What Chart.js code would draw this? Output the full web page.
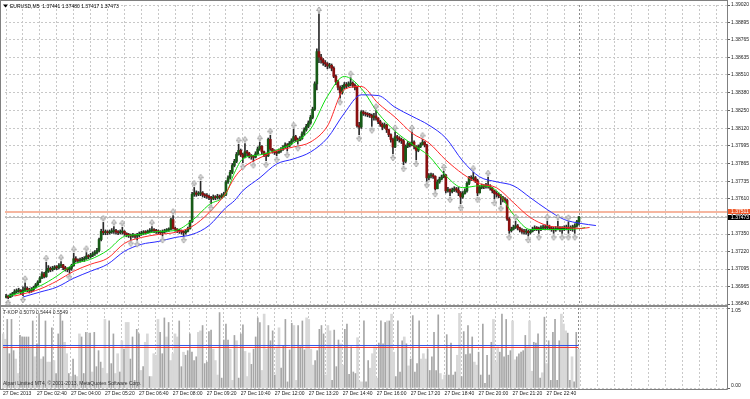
<!DOCTYPE html>
<html>
<head>
<meta charset="utf-8">
<script src="https://cdn.jsdelivr.net/npm/chart.js@4.4.1/dist/chart.umd.min.js"></script>
<style>
  html, body { margin: 0; padding: 0; background: #fff; width: 750px; height: 399px; overflow: hidden; }
  #wrap { position: relative; width: 750px; height: 399px; }
  #sub { position: absolute; left: 0; top: 305px; }
  #main { position: absolute; left: 0; top: 0; }
</style>
</head>
<body>
<div id="wrap">
  <canvas id="sub" width="750" height="94"></canvas>
  <canvas id="main" width="750" height="312"></canvas>
</div>
<script>
// ---- data ----
const symbol = "EURUSD";
const period = "M5";

const priceTicks = [1.36840, 1.36965, 1.37095, 1.37220, 1.37350, 1.37480, 1.37610, 1.37735, 1.37865,
  1.37995, 1.38120, 1.38250, 1.38380, 1.38510, 1.38635, 1.38765, 1.38895, 1.39020];

// one label every 16 bars, starting at bar 0
const timeLabels = ["27 Dec 2013", "27 Dec 02:40", "27 Dec 04:00", "27 Dec 05:20", "27 Dec 06:40",
  "27 Dec 08:00", "27 Dec 09:20", "27 Dec 10:40", "27 Dec 12:00", "27 Dec 13:20", "27 Dec 14:40",
  "27 Dec 16:00", "27 Dec 17:20", "27 Dec 18:40", "27 Dec 20:00", "27 Dec 21:20", "27 Dec 22:40"];

const firstOpen = 1.36890;

const closes = [
  1.36895,1.36888,1.36905,1.36915,1.36930,1.36935,1.36940,1.36925,1.36940,1.36955,
  1.36945,1.36935,1.36945,1.36960,1.36980,1.37000,1.37030,1.37060,1.37040,1.37080,
  1.37100,1.37090,1.37100,1.37110,1.37105,1.37120,1.37125,1.37105,1.37095,1.37090,
  1.37100,1.37120,1.37170,1.37160,1.37155,1.37160,1.37165,1.37170,1.37190,1.37185,
  1.37195,1.37205,1.37215,1.37230,1.37310,1.37370,1.37360,1.37365,1.37360,1.37365,
  1.37370,1.37375,1.37365,1.37360,1.37365,1.37370,1.37355,1.37345,1.37340,1.37335,
  1.37340,1.37335,1.37340,1.37350,1.37355,1.37365,1.37360,1.37370,1.37375,1.37380,
  1.37375,1.37370,1.37365,1.37360,1.37365,1.37375,1.37380,1.37385,1.37455,1.37390,
  1.37385,1.37375,1.37370,1.37365,1.37360,1.37370,1.37390,1.37440,1.37640,1.37650,
  1.37640,1.37645,1.37650,1.37635,1.37630,1.37625,1.37615,1.37610,1.37620,1.37615,
  1.37625,1.37620,1.37630,1.37640,1.37730,1.37760,1.37800,1.37850,1.37880,1.37930,
  1.37960,1.37930,1.37910,1.37950,1.37940,1.37920,1.37915,1.37910,1.37935,1.37970,
  1.37990,1.37950,1.37930,1.37920,1.38040,1.37970,1.37955,1.37945,1.37940,1.37955,
  1.37965,1.37985,1.38000,1.37990,1.38010,1.38030,1.38060,1.38040,1.38030,1.38045,
  1.38080,1.38110,1.38135,1.38160,1.38200,1.38260,1.38445,1.38680,1.38640,1.38620,
  1.38600,1.38590,1.38575,1.38580,1.38560,1.38500,1.38460,1.38420,1.38380,1.38420,
  1.38440,1.38430,1.38445,1.38450,1.38435,1.38420,1.38140,1.38130,1.38240,1.38230,
  1.38225,1.38220,1.38215,1.38200,1.38210,1.38195,1.38170,1.38150,1.38130,1.38145,
  1.38110,1.38075,1.38040,1.37985,1.38060,1.38050,1.38040,1.38030,1.37880,1.37990,
  1.38010,1.38000,1.38020,1.37990,1.37960,1.37985,1.38000,1.38020,1.38000,1.37760,
  1.37775,1.37780,1.37770,1.37680,1.37730,1.37750,1.37765,1.37780,1.37665,1.37675,
  1.37660,1.37670,1.37680,1.37670,1.37650,1.37620,1.37645,1.37665,1.37720,1.37760,
  1.37755,1.37760,1.37740,1.37650,1.37690,1.37700,1.37695,1.37705,1.37700,1.37685,
  1.37665,1.37645,1.37640,1.37630,1.37615,1.37600,1.37595,1.37460,1.37375,1.37385,
  1.37400,1.37410,1.37395,1.37380,1.37370,1.37365,1.37370,1.37360,1.37370,1.37385,
  1.37395,1.37390,1.37385,1.37395,1.37400,1.37395,1.37405,1.37395,1.37385,1.37380,
  1.37390,1.37395,1.37385,1.37390,1.37395,1.37400,1.37390,1.37395,1.37400,1.37410,
  1.37441,1.37473
];

const highs = [
  1.36910,1.36905,1.36915,1.36925,1.36945,1.36950,1.36955,1.36945,1.36965,1.36995,
  1.36965,1.36955,1.36960,1.36970,1.36990,1.37010,1.37040,1.37075,1.37070,1.37145,
  1.37120,1.37110,1.37115,1.37120,1.37120,1.37135,1.37150,1.37130,1.37115,1.37105,
  1.37110,1.37130,1.37210,1.37185,1.37170,1.37175,1.37180,1.37185,1.37215,1.37200,
  1.37210,1.37220,1.37230,1.37245,1.37320,1.37385,1.37435,1.37380,1.37375,1.37380,
  1.37390,1.37405,1.37385,1.37375,1.37380,1.37400,1.37375,1.37360,1.37355,1.37350,
  1.37355,1.37350,1.37355,1.37365,1.37370,1.37375,1.37375,1.37380,1.37390,1.37405,
  1.37390,1.37385,1.37380,1.37375,1.37380,1.37385,1.37390,1.37395,1.37465,1.37485,
  1.37400,1.37390,1.37385,1.37380,1.37375,1.37380,1.37400,1.37450,1.37655,1.37690,
  1.37665,1.37660,1.37735,1.37660,1.37645,1.37645,1.37635,1.37625,1.37635,1.37630,
  1.37640,1.37635,1.37645,1.37655,1.37740,1.37775,1.37815,1.37865,1.37895,1.37945,
  1.38005,1.37970,1.37940,1.38010,1.37960,1.37945,1.37930,1.37925,1.37950,1.37985,
  1.38020,1.37995,1.37955,1.37940,1.38050,1.38070,1.37975,1.37965,1.37955,1.37970,
  1.37980,1.37995,1.38015,1.38010,1.38025,1.38045,1.38115,1.38070,1.38050,1.38060,
  1.38095,1.38125,1.38150,1.38175,1.38215,1.38275,1.38460,1.38700,1.38955,1.38660,
  1.38630,1.38615,1.38600,1.38595,1.38590,1.38570,1.38510,1.38470,1.38430,1.38435,
  1.38455,1.38455,1.38460,1.38490,1.38460,1.38445,1.38430,1.38165,1.38250,1.38250,
  1.38240,1.38235,1.38230,1.38225,1.38230,1.38250,1.38200,1.38180,1.38160,1.38160,
  1.38150,1.38115,1.38080,1.38050,1.38095,1.38070,1.38060,1.38050,1.38040,1.38000,
  1.38025,1.38020,1.38095,1.38030,1.37995,1.38000,1.38015,1.38040,1.38025,1.38005,
  1.37790,1.37795,1.37790,1.37775,1.37745,1.37765,1.37780,1.37810,1.37785,1.37690,
  1.37680,1.37685,1.37695,1.37690,1.37690,1.37660,1.37660,1.37680,1.37730,1.37770,
  1.37775,1.37800,1.37770,1.37750,1.37705,1.37715,1.37710,1.37720,1.37765,1.37710,
  1.37690,1.37670,1.37660,1.37650,1.37640,1.37625,1.37615,1.37605,1.37470,1.37400,
  1.37415,1.37445,1.37420,1.37400,1.37390,1.37385,1.37385,1.37380,1.37385,1.37400,
  1.37410,1.37405,1.37400,1.37410,1.37415,1.37415,1.37445,1.37415,1.37405,1.37400,
  1.37405,1.37445,1.37405,1.37405,1.37410,1.37415,1.37440,1.37410,1.37415,1.37425,
  1.37450,1.37480
];

const lows = [
  1.36885,1.36878,1.36890,1.36895,1.36905,1.36920,1.36925,1.36910,1.36900,1.36930,
  1.36930,1.36920,1.36925,1.36935,1.36955,1.36975,1.36995,1.37025,1.37030,1.37035,
  1.37070,1.37075,1.37080,1.37090,1.37090,1.37095,1.37105,1.37090,1.37080,1.37075,
  1.37065,1.37085,1.37115,1.37145,1.37140,1.37145,1.37150,1.37150,1.37165,1.37170,
  1.37175,1.37185,1.37195,1.37205,1.37220,1.37300,1.37345,1.37345,1.37345,1.37350,
  1.37355,1.37355,1.37350,1.37345,1.37350,1.37350,1.37340,1.37330,1.37325,1.37310,
  1.37325,1.37320,1.37305,1.37330,1.37340,1.37345,1.37350,1.37355,1.37360,1.37365,
  1.37360,1.37355,1.37350,1.37345,1.37335,1.37355,1.37365,1.37370,1.37380,1.37385,
  1.37370,1.37360,1.37355,1.37350,1.37335,1.37350,1.37365,1.37385,1.37435,1.37625,
  1.37625,1.37630,1.37630,1.37620,1.37615,1.37610,1.37600,1.37570,1.37600,1.37600,
  1.37605,1.37605,1.37610,1.37620,1.37630,1.37720,1.37750,1.37790,1.37840,1.37870,
  1.37925,1.37915,1.37870,1.37905,1.37920,1.37905,1.37895,1.37880,1.37905,1.37930,
  1.37960,1.37935,1.37915,1.37885,1.37915,1.37960,1.37940,1.37930,1.37920,1.37940,
  1.37945,1.37960,1.37975,1.37955,1.37985,1.38000,1.38025,1.38025,1.38005,1.38030,
  1.38040,1.38070,1.38100,1.38125,1.38150,1.38190,1.38250,1.38400,1.38600,1.38595,
  1.38580,1.38570,1.38555,1.38560,1.38540,1.38490,1.38440,1.38400,1.38340,1.38370,
  1.38410,1.38415,1.38425,1.38430,1.38420,1.38400,1.38130,1.38075,1.38120,1.38215,
  1.38210,1.38205,1.38200,1.38135,1.38180,1.38180,1.38155,1.38135,1.38110,1.38120,
  1.38090,1.38060,1.38020,1.37935,1.37980,1.38030,1.38020,1.38010,1.37855,1.37870,
  1.37980,1.37985,1.37995,1.37970,1.37890,1.37950,1.37980,1.38000,1.37985,1.37735,
  1.37745,1.37760,1.37755,1.37670,1.37690,1.37720,1.37745,1.37760,1.37650,1.37655,
  1.37630,1.37650,1.37660,1.37655,1.37630,1.37570,1.37610,1.37640,1.37655,1.37710,
  1.37740,1.37740,1.37725,1.37630,1.37650,1.37680,1.37680,1.37685,1.37685,1.37670,
  1.37650,1.37605,1.37620,1.37615,1.37565,1.37585,1.37580,1.37450,1.37355,1.37365,
  1.37380,1.37390,1.37380,1.37365,1.37355,1.37350,1.37350,1.37335,1.37350,1.37365,
  1.37375,1.37375,1.37355,1.37375,1.37385,1.37380,1.37385,1.37380,1.37370,1.37355,
  1.37370,1.37380,1.37370,1.37355,1.37375,1.37380,1.37355,1.37375,1.37370,1.37355,
  1.37400,1.37417
];

// Alligator lines, sampled along the bar index (they run past the last bar)
const jawX = [8,16,24,32,40,48,56,64,72,80, 88,96,104,108,112,120,128,136,144,152,
  160,168,176,184,192,200,208,216,224,232, 240,248,256,264,272,279];
const jawY = [1.36891,1.36927,1.36963,1.37028,1.37079,1.37130,1.37224,1.37275,1.37296,1.37325,
  1.37347,1.37412,1.37543,1.37593,1.37666,1.37760,1.37861,1.37898,1.37948,1.38050,
  1.38231,1.38365,1.38360,1.38274,1.38209,1.38144,1.38050,1.37883,1.37767,1.37731,
  1.37702,1.37615,1.37528,1.37456,1.37427,1.37412];

const teethX = [4,8,16,24,32,40,48,56,64,72, 80,88,96,104,108,112,120,128,136,144,
  152,160,168,176,184,192,200,208,216,224, 232,240,248,256,264,272,276];
const teethY = [1.36898,1.36913,1.36949,1.37007,1.37079,1.37130,1.37173,1.37282,1.37325,1.37347,
  1.37362,1.37405,1.37506,1.37651,1.37760,1.37832,1.37905,1.37956,1.37985,1.38021,
  1.38137,1.38405,1.38426,1.38303,1.38202,1.38086,1.38014,1.37890,1.37789,1.37717,
  1.37688,1.37579,1.37470,1.37412,1.37398,1.37391,1.37398];

const lipsX = [1,8,16,24,32,40,48,56,64,72, 80,88,96,104,108,112,120,128,136,144,
  152,160,168,176,184,192,200,208,216,224, 232,240,248,256,264,272,274];
const lipsY = [1.36898,1.36927,1.36971,1.37043,1.37130,1.37166,1.37231,1.37333,1.37347,1.37369,
  1.37376,1.37448,1.37564,1.37644,1.37796,1.37898,1.37927,1.37963,1.38014,1.38115,
  1.38354,1.38499,1.38412,1.38231,1.38100,1.38006,1.37919,1.37775,1.37688,1.37702,
  1.37666,1.37492,1.37383,1.37383,1.37383,1.37391,1.37398];

// bars carrying a fractal arrow
const fractalUp = [9, 19, 26, 32, 38, 46, 51, 55, 69, 79, 89, 92, 110, 113, 120, 125, 136, 148,
  163, 175, 184, 192, 197, 207, 221, 228, 241, 256, 261, 266];
const fractalDown = [1, 8, 30, 59, 62, 74, 84, 97, 112, 117, 123, 128, 133, 138, 158, 167, 173,
  183, 188, 194, 199, 203, 210, 215, 223, 231, 234, 238, 247, 252, 259, 263, 266, 269];

const userLine = 1.37511;

// T-KOP sub window
const tkopHist = [
  0.71,0.64,0.90,0.45,0.90,0.49,0.38,0.19,0.69,0.67, 0.67,0.67,0.67,0.54,0.88,0.41,0.58,0.97,0.38,0.41,
  0.88,0.34,0.34,0.79,0.36,0.19,0.71,0.97,0.88,0.60, 0.45,0.19,0.15,0.38,0.17,0.15,0.71,0.67,0.19,0.73,
  0.72,0.72,0.21,0.73,0.28,0.49,0.34,0.26,0.90,0.19, 0.88,0.32,0.71,0.19,0.45,0.21,0.62,0.51,0.86,0.86,
  0.38,0.67,0.10,0.77,0.71,0.23,0.28,0.60,0.71,0.15, 0.15,0.45,0.43,0.90,0.73,0.45,0.92,0.67,0.86,0.36,
  0.45,0.71,0.67,0.88,0.28,0.47,0.43,0.49,0.71,
  0.47,0.36,0.41,0.73,0.75,0.82,0.32,0.34,0.74,0.76, 0.51,0.36,0.17,0.99,0.13,0.63,0.84,0.63,0.51,0.10,
  0.69,0.62,0.13,0.71,0.83,0.48,0.15,0.46,0.31,0.51, 0.67,0.92,0.86,0.23,0.97,0.51,0.82,0.62,0.75,0.17,
  0.54,0.79,0.26,0.56,0.90,0.08,0.50,0.85,0.82,0.10, 0.82,0.54,0.88,0.50,0.92,0.90,0.51,0.30,0.36,0.49,
  0.77,0.82,0.71,0.17,0.82,0.75,0.10,0.76,0.28,0.63, 0.58,0.30,0.77,0.84,0.18,0.54,0.21,0.19,0.66,0.08,
  0.08,0.88,0.08,0.36,0.26,0.45,0.54,0.13,0.59,0.88, 0.58,
  0.86,0.88,0.88,0.97,0.47,0.15,0.88,0.21,0.62,0.67, 0.58,0.29,0.38,0.95,0.21,0.32,0.88,0.38,0.45,0.38,
  0.51,0.23,0.41,0.73,0.23,0.96,0.19,0.11,0.17,0.70, 0.17,0.59,0.17,0.21,0.43,0.98,0.15,0.74,0.44,0.82,
  0.45,0.67,0.34,0.30,0.47,0.17,0.84,0.06,0.43,0.17, 0.60,0.90,0.34,0.54,0.47,0.97,0.41,0.90,0.43,0.49,
  0.88,0.37,0.41,0.45,0.47,0.49,0.69,0.54,0.88,0.22, 0.60,0.59,0.71,0.13,0.20,0.93,0.32,0.62,0.10,0.73,
  0.90,0.10,0.62,0.97,0.84,0.75,0.72,0.10,0.41,0.08, 0.73,0.5079
];
// D = dark thin bar, L = light wide bar
const tkopShade =
  "LLDDDDLLDD" + "DDDLDLDDLD" + "DLLDLDDDDL" + "LDLDDLLDDD" + "LDLDDDDLLL" + "DDDLLDLDLL" +
  "DDDDDLDLLD" + "LLLLDDDLDL" + "LLLDDLDDD" +
  "DDDLLDDDDD" + "LLLDDDDDLL" + "DLDDDLLLDD" + "DDDLLLDDDD" + "LLDDDDDDLL" + "DDDDLLLLDD" +
  "DDDLLLDDDD" + "LLDDDDDDLL" + "LDDDLLLLDDD" +
  "DLDLLDDDDL" + "DLDDDDDLLL" + "DDDDDDLLLD" + "DDDDLLDDDD" + "DDLLDDDDDD" + "DLLLDDDDDD" +
  "LLDDDDDLLL" + "DDDDLDLDDD" + "DDDLLLDDLD" + "DL";
// the two level lines as they sit in the window, and the values the window caption prints
const tkopLineRed = 0.532;
const tkopLineBlue = 0.558;
const tkopCaption = ["0.5079", "0.5444", "0.5549"];

// ---- derived ----
const N = closes.length;
const opens = closes.map((c, i) => (i === 0 ? firstOpen : closes[i - 1]));
const bid = closes[N - 1];

const FONT = "Liberation Sans";
Chart.defaults.font.family = FONT;
Chart.defaults.font.size = 5;
Chart.defaults.color = "#202020";

const GRID = "#c8c8c8";
const FRAME = "#808080";
const X_MIN = -0.5, X_MAX = 341;
const gridSteps = [];
for (let v = 0; v <= 336; v += 8) gridSteps.push(v);

// small Wingdings-like arrow, drawn on the far side of the point
function arrowGlyph(up) {
  const c = document.createElement("canvas");
  c.width = 6; c.height = 16;
  const g = c.getContext("2d");
  g.fillStyle = "#dcdcdc";
  g.strokeStyle = "#8c8c8c";
  g.lineWidth = 0.7;
  g.beginPath();
  if (up) {
    g.moveTo(3, 1); g.lineTo(5.5, 4.5); g.lineTo(3.8, 4.5); g.lineTo(3.8, 6.5);
    g.lineTo(2.2, 6.5); g.lineTo(2.2, 4.5); g.lineTo(0.5, 4.5);
  } else {
    g.moveTo(3, 15); g.lineTo(5.5, 11.5); g.lineTo(3.8, 11.5); g.lineTo(3.8, 9.5);
    g.lineTo(2.2, 9.5); g.lineTo(2.2, 11.5); g.lineTo(0.5, 11.5);
  }
  g.closePath();
  g.fill();
  g.stroke();
  return c;
}

function xAxis(extra) {
  return Object.assign({
    type: "linear", min: X_MIN, max: X_MAX, offset: false,
    afterBuildTicks: (s) => { s.ticks = gridSteps.map((v) => ({ value: v })); },
    grid: { color: GRID, offset: false, drawTicks: false },
    border: { display: false, dash: [2, 2] },
  }, extra);
}

function lastBarMarker(chart) {
  const { ctx, chartArea: a, scales: { x } } = chart;
  const lx = Math.round(x.getPixelForValue(N - 1)) + 0.5;
  ctx.save();
  ctx.strokeStyle = "#8c8c8c";
  ctx.lineWidth = 1;
  ctx.setLineDash([2, 2]);
  ctx.beginPath();
  ctx.moveTo(lx, a.top);
  ctx.lineTo(lx, a.bottom);
  ctx.stroke();
  ctx.restore();
}

// ---- main window ----
const mainDecor = {
  id: "mainDecor",
  beforeDatasetsDraw(chart) {
    const { ctx, chartArea: a, scales: { y } } = chart;
    lastBarMarker(chart);
    ctx.save();
    ctx.lineWidth = 1;
    ctx.strokeStyle = "#bdbdbd";
    let py = Math.round(y.getPixelForValue(bid)) + 0.5;
    ctx.beginPath(); ctx.moveTo(a.left, py); ctx.lineTo(a.right, py); ctx.stroke();
    ctx.strokeStyle = "#f6b6a0";
    ctx.lineWidth = 2;
    py = Math.round(y.getPixelForValue(userLine));
    ctx.beginPath(); ctx.moveTo(a.left, py); ctx.lineTo(a.right, py); ctx.stroke();
    ctx.restore();
  },
  afterDraw(chart) {
    const { ctx, chartArea: a, scales: { y } } = chart;
    ctx.save();
    ctx.strokeStyle = FRAME;
    ctx.lineWidth = 1;
    ctx.beginPath();
    ctx.moveTo(0, 0.5); ctx.lineTo(a.right + 0.5, 0.5);
    ctx.moveTo(0.5, 0); ctx.lineTo(0.5, 306);
    ctx.moveTo(a.right + 0.5, 0); ctx.lineTo(a.right + 0.5, 306);
    ctx.stroke();

    // header
    ctx.fillStyle = "#000";
    ctx.beginPath();
    ctx.moveTo(3, 4.5); ctx.lineTo(8, 4.5); ctx.lineTo(5.5, 7.5);
    ctx.closePath();
    ctx.fill();
    ctx.font = "5px " + FONT;
    ctx.textBaseline = "middle";
    ctx.textAlign = "left";
    const o = opens[N - 1], h = highs[N - 1], l = lows[N - 1], c = closes[N - 1];
    ctx.fillText(symbol + "," + period + "  " + [o, h, l, c].map((v) => v.toFixed(5)).join(" "), 10, 6.5);

    // price tags on the scale
    const tag = (v, bg) => {
      const py = y.getPixelForValue(v);
      ctx.fillStyle = bg;
      ctx.fillRect(a.right + 1, Math.round(py - 2.5), 750 - a.right - 1, 5);
      ctx.fillStyle = "#fff";
      ctx.fillText(v.toFixed(5), a.right + 4, py);
    };
    tag(userLine, "#ef5a2c");
    tag(bid, "#000");
    ctx.restore();
  },
};

const bodyColors = closes.map((c, i) => (c > opens[i] ? "#175a17" : c < opens[i] ? "#8a1010" : "#000"));

new Chart(document.getElementById("main"), {
  type: "bar",
  data: {
    datasets: [
      {
        type: "line", label: "fractal up", order: 0, clip: false,
        data: fractalUp.map((i) => ({ x: i, y: highs[i] })),
        showLine: false, pointStyle: arrowGlyph(true), pointRadius: 4,
      },
      {
        type: "line", label: "fractal down", order: 0, clip: false,
        data: fractalDown.map((i) => ({ x: i, y: lows[i] })),
        showLine: false, pointStyle: arrowGlyph(false), pointRadius: 4,
      },
      {
        type: "line", label: "jaw", order: 1,
        data: jawX.map((x, k) => ({ x, y: jawY[k] })),
        borderColor: "#2a2aff", borderWidth: 1, pointRadius: 0, cubicInterpolationMode: "monotone",
      },
      {
        type: "line", label: "teeth", order: 1,
        data: teethX.map((x, k) => ({ x, y: teethY[k] })),
        borderColor: "#ff2a2a", borderWidth: 1, pointRadius: 0, cubicInterpolationMode: "monotone",
      },
      {
        type: "line", label: "lips", order: 1,
        data: lipsX.map((x, k) => ({ x, y: lipsY[k] })),
        borderColor: "#10dd10", borderWidth: 1, pointRadius: 0, cubicInterpolationMode: "monotone",
      },
      {
        label: "body", order: 2, grouped: false, barThickness: 2, minBarLength: 1,
        data: closes.map((c, i) => ({ x: i, y: [opens[i], c] })),
        backgroundColor: bodyColors,
      },
      {
        label: "wick", order: 3, grouped: false, barThickness: 1,
        data: closes.map((c, i) => ({
          x: i,
          y: [Math.min(lows[i], opens[i], c), Math.max(highs[i], opens[i], c)],
        })),
        backgroundColor: "#2a2a2a",
      },
    ],
  },
  options: {
    responsive: false,
    animation: false,
    events: [],
    layout: { padding: { left: 1, top: 3, right: 0, bottom: 8 } },
    plugins: { legend: { display: false }, tooltip: { enabled: false } },
    scales: {
      x: xAxis({ ticks: { display: false }, afterFit: (s) => { s.height = 0; } }),
      y: {
        position: "right", min: 1.36840, max: 1.39020,
        afterBuildTicks: (s) => { s.ticks = priceTicks.map((v) => ({ value: v })); },
        afterFit: (s) => { s.width = 23; },
        ticks: { callback: (v) => v.toFixed(5), padding: 1, autoSkip: false, color: "#202020" },
        grid: { color: GRID, tickLength: 3, tickColor: "#606060" },
        border: { display: false, dash: [2, 2] },
      },
    },
  },
  plugins: [mainDecor],
});

// ---- T-KOP window ----
const subDecor = {
  id: "subDecor",
  beforeDatasetsDraw(chart) { lastBarMarker(chart); },
  afterDraw(chart) {
    const { ctx, chartArea: a, scales: { y } } = chart;
    ctx.save();
    ctx.fillStyle = "#8a8a8a";
    ctx.fillRect(0, 0, a.right + 1, 2);
    ctx.strokeStyle = FRAME;
    ctx.lineWidth = 1;
    ctx.beginPath();
    ctx.moveTo(0.5, 0); ctx.lineTo(0.5, a.bottom + 1.5);
    ctx.moveTo(a.right + 0.5, 0); ctx.lineTo(a.right + 0.5, a.bottom + 1.5);
    ctx.moveTo(0, a.bottom + 1.5); ctx.lineTo(a.right + 0.5, a.bottom + 1.5);
    ctx.stroke();

    ctx.font = "5px " + FONT;
    ctx.textAlign = "left";
    ctx.textBaseline = "middle";
    ctx.fillStyle = "#202020";
    ctx.fillText("1.05", a.right + 4, y.getPixelForValue(1.05) + 2.5);
    ctx.fillText("0.00", a.right + 4, y.getPixelForValue(0) - 2.5);
    ctx.fillStyle = "#303030";
    ctx.fillText("T-KOP " + tkopCaption.join(" "), 3, 8);
    ctx.fillText("Alpari Limited MT4, \u00a9 2001-2013, MetaQuotes Software Corp.", 3, a.bottom - 4);
    ctx.restore();
  },
};

const histPoints = (shade) => tkopHist
  .map((v, i) => ({ x: i, y: v }))
  .filter((p) => (tkopShade[p.x] || "D") === shade);

new Chart(document.getElementById("sub"), {
  type: "bar",
  data: {
    datasets: [
      {
        type: "line", label: "blue level", order: 0,
        data: [{ x: 0, y: tkopLineBlue }, { x: N - 1, y: tkopLineBlue }],
        borderColor: "#2f4fe8", borderWidth: 1, pointRadius: 0,
      },
      {
        type: "line", label: "red level", order: 0,
        data: [{ x: 0, y: tkopLineRed }, { x: N - 1, y: tkopLineRed }],
        borderColor: "#f03030", borderWidth: 1, pointRadius: 0,
      },
      {
        label: "dark", order: 1, grouped: false, barThickness: 1,
        data: histPoints("D"), backgroundColor: "#a6a6a6",
      },
      {
        label: "light", order: 2, grouped: false, barThickness: 2,
        data: histPoints("L"), backgroundColor: "#d8d8d8",
      },
    ],
  },
  options: {
    responsive: false,
    animation: false,
    events: [],
    layout: { padding: { left: 1, top: 3, right: 0, bottom: 0 } },
    plugins: { legend: { display: false }, tooltip: { enabled: false } },
    scales: {
      x: xAxis({
        afterFit: (s) => { s.height = 11; },
        ticks: {
          autoSkip: false, maxRotation: 0, minRotation: 0, align: "start", padding: 3,
          color: "#202020",
          callback: (v) => (v % 16 === 0 && timeLabels[v / 16] ? timeLabels[v / 16] : ""),
        },
      }),
      y: {
        position: "right", min: 0, max: 1.05,
        afterBuildTicks: (s) => { s.ticks = [{ value: 0 }, { value: 1.05 }]; },
        afterFit: (s) => { s.width = 23; },
        ticks: { display: false },
        grid: { color: GRID, tickLength: 3, tickColor: "#606060" },
        border: { display: false, dash: [2, 2] },
      },
    },
  },
  plugins: [subDecor],
});
</script>
</body>
</html>
